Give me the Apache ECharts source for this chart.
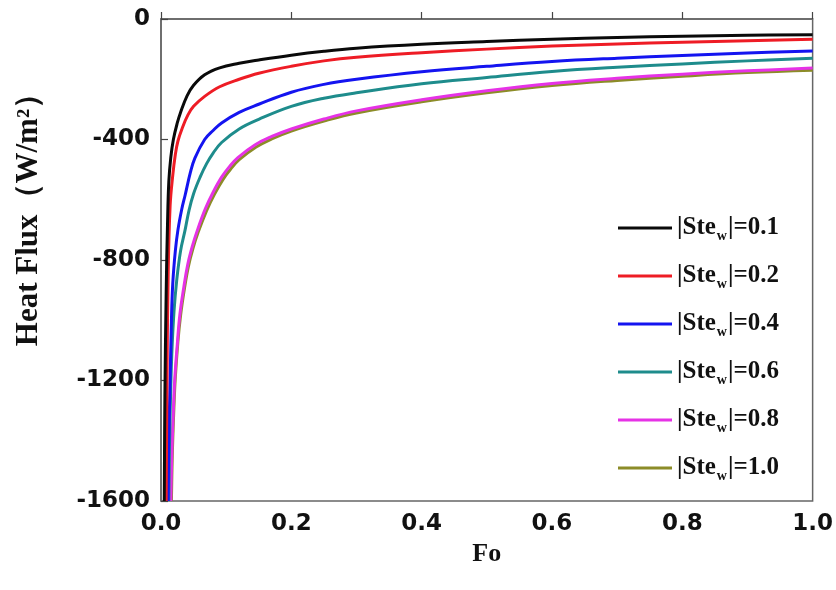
<!DOCTYPE html>
<html>
<head>
<meta charset="utf-8">
<script src="https://cdn.jsdelivr.net/npm/echarts@6/dist/echarts.min.js"></script>
<style>html,body{margin:0;padding:0;background:#fff;}#c{width:836px;height:590px;}</style>
</head>
<body>
<div id="c"></div>
<script>
const steLabels = ['0.1', '0.2', '0.4', '0.6', '0.8', '1.0'];
const xTicks = [0, 0.2, 0.4, 0.6, 0.8, 1.0];
const yTicks = [-1600, -1200, -800, -400, 0];

const fo01 = [0.005,0.006,0.008,0.010,0.012,0.015,0.019,0.025,0.03,0.04,0.05,0.067,0.09,0.12,0.15,0.2,0.25,0.3,0.4,0.5,0.6,0.7,0.8,0.9,1.0];
const q01  = [-1600,-1250,-900,-680,-540,-460,-400,-345,-310,-255,-220,-185,-162,-147,-136,-120,-107,-97,-84,-75,-67,-61,-57,-54,-52];

const fo02 = [0.008,0.009,0.011,0.014,0.018,0.022,0.026,0.033,0.041,0.05,0.067,0.09,0.12,0.15,0.2,0.25,0.3,0.4,0.5,0.6,0.7,0.8,0.9,1.0];
const q02  = [-1600,-1250,-850,-620,-520,-450,-405,-360,-320,-290,-257,-225,-200,-180,-157,-139,-127,-112,-100,-90,-83,-77,-72,-67];

const fo04 = [0.011,0.012,0.014,0.016,0.018,0.022,0.026,0.032,0.037,0.045,0.052,0.067,0.08,0.093,0.12,0.15,0.2,0.25,0.3,0.4,0.5,0.6,0.7,0.8,0.9,1.0];
const q04  = [-1600,-1400,-1200,-1000,-880,-770,-700,-630,-585,-510,-462,-400,-370,-345,-310,-283,-243,-217,-200,-175,-157,-141,-130,-121,-113,-106];

const fo06 = [0.012,0.013,0.015,0.017,0.02,0.024,0.03,0.037,0.043,0.05,0.06,0.07,0.08,0.093,0.12,0.15,0.2,0.25,0.3,0.4,0.5,0.6,0.7,0.8,0.9,1.0];
const q06  = [-1600,-1420,-1220,-1090,-970,-870,-770,-700,-635,-580,-525,-480,-445,-410,-365,-333,-290,-263,-245,-215,-194,-174,-160,-149,-139,-130];

const fo08 = [0.015,0.016,0.017,0.019,0.021,0.025,0.029,0.035,0.041,0.048,0.056,0.068,0.08,0.093,0.105,0.118,0.144,0.17,0.2,0.25,0.3,0.4,0.5,0.6,0.7,0.8,0.9,1.0];
const q08  = [-1600,-1500,-1420,-1300,-1200,-1080,-980,-890,-815,-755,-700,-630,-575,-525,-490,-460,-418,-390,-365,-332,-305,-268,-238,-214,-197,-183,-172,-163];

const fo10 = [0.016,0.017,0.018,0.02,0.022,0.026,0.03,0.036,0.042,0.049,0.057,0.07,0.082,0.095,0.107,0.12,0.146,0.17,0.2,0.25,0.3,0.4,0.5,0.6,0.7,0.8,0.9,1.0];
const q10  = [-1600,-1480,-1400,-1280,-1190,-1070,-985,-895,-822,-762,-708,-636,-582,-533,-498,-467,-425,-398,-372,-339,-312,-275,-245,-221,-204,-190,-178,-170];

const seriesFo = [fo01, fo02, fo04, fo06, fo08, fo10];
const seriesQ = [q01, q02, q04, q06, q08, q10];
const colors = ['#0a0a0a', '#ee1c25', '#1414f0', '#1e8c8c', '#e632e6', '#8c8c28'];

const zip = (a, b) => a.map((v, i) => [v, b[i]]);

const chart = echarts.init(document.getElementById('c'), null, {renderer: 'canvas'});

const series = steLabels.map((lab, i) => ({
  name: lab,
  type: 'line',
  data: zip(seriesFo[i], seriesQ[i]),
  symbol: 'none',
  smooth: 0.4,
  lineStyle: {color: colors[i], width: 3},
  itemStyle: {color: colors[i]},
  z: 10 - i,
  clip: true
}));

chart.setOption({
  animation: false,
  backgroundColor: '#fff',
  grid: {left: 161, right: 20, top: 19, bottom: 89, show: true, borderColor: '#666', borderWidth: 1.5, backgroundColor: 'transparent'},
  xAxis: {
    type: 'value', min: xTicks[0], max: xTicks[xTicks.length - 1], interval: 0.2,
    name: 'Fo', nameLocation: 'middle', nameGap: 33,
    nameTextStyle: {fontFamily: 'Liberation Serif', fontWeight: 'bold', fontSize: 26, color: '#111'},
    axisLine: {show: true, lineStyle: {color: '#666', width: 1.5}},
    axisTick: {show: true, inside: true, length: 7, lineStyle: {color: '#444', width: 1.2}},
    splitLine: {show: false},
    axisLabel: {fontFamily: 'DejaVu Sans', fontWeight: 'bold', fontSize: 23, color: '#111', margin: 12,
      formatter: v => v.toFixed(1)}
  },
  yAxis: {
    type: 'value', min: yTicks[0], max: yTicks[yTicks.length - 1], interval: 400,
    name: 'Heat Flux（W/m²）', nameLocation: 'middle', nameGap: 117, nameRotate: 90,
    nameTextStyle: {fontFamily: 'Liberation Serif', fontWeight: 'bold', fontSize: 31, color: '#111', padding: [0, 0, 0, 96]},
    axisLine: {show: true, lineStyle: {color: '#666', width: 1.5}},
    axisTick: {show: true, inside: true, length: 7, lineStyle: {color: '#444', width: 1.2}},
    splitLine: {show: false},
    axisLabel: {fontFamily: 'DejaVu Sans', fontWeight: 'bold', fontSize: 23, color: '#111', margin: 11,
      formatter: v => String(v)}
  },
  legend: {
    orient: 'vertical', left: 613, top: 210,
    icon: 'rect', itemWidth: 54, itemHeight: 3, itemGap: 20,
    data: steLabels,
    formatter: name => '|Ste{w|w}|=' + name,
    textStyle: {
      fontFamily: 'Liberation Serif', fontWeight: 'bold', fontSize: 25, color: '#111', lineHeight: 26,
      rich: {w: {fontFamily: 'Liberation Serif', fontWeight: 'bold', fontSize: 14, color: '#111', padding: [16, 1, 0, 1]}}
    }
  },
  series: series
});
</script>
</body>
</html>
